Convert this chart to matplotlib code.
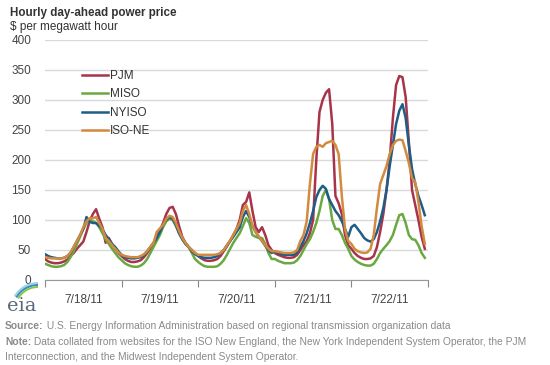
import numpy as np
import matplotlib
matplotlib.use('Agg')
import matplotlib.pyplot as plt
from matplotlib.patches import Arc

plt.rcParams['font.family'] = ['Liberation Sans', 'DejaVu Sans']

days = ['7/18/11', '7/19/11', '7/20/11', '7/21/11', '7/22/11']
yticks = [0, 50, 100, 150, 200, 250, 300, 350, 400]

# hourly prices, $/MWh, 5 days x 24 hours
pjm = [35, 31, 29, 28, 28, 29, 31, 34, 40, 45, 52, 58, 64, 80, 98, 110, 118, 102, 88, 62, 70, 60, 52, 45,
       40, 35, 32, 30, 30, 31, 33, 38, 45, 52, 60, 70, 82, 95, 110, 120, 122, 110, 90, 72, 62, 55, 50, 45,
       40, 36, 33, 32, 32, 33, 35, 40, 48, 56, 65, 75, 85, 100, 125, 130, 146, 115, 88, 80, 88, 75, 58, 50,
       45, 42, 40, 38, 37, 37, 38, 42, 50, 58, 65, 78, 100, 200, 280, 300, 312, 318, 260, 140, 128, 110, 75, 58,
       52, 45, 40, 37, 35, 35, 36, 40, 55, 80, 110, 150, 200, 270, 325, 340, 338, 305, 230, 150, 125, 100, 72, 52]
miso = [27, 25, 23, 22, 22, 23, 25, 30, 38, 48, 60, 72, 85, 95, 100, 98, 95, 88, 78, 68, 60, 52, 45, 38,
        33, 28, 25, 23, 22, 22, 24, 28, 35, 45, 55, 65, 75, 88, 98, 102, 100, 90, 78, 68, 62, 55, 45, 35,
        30, 26, 23, 22, 22, 22, 23, 27, 33, 42, 52, 62, 70, 78, 90, 103, 95, 75, 72, 70, 70, 60, 45, 35,
        35, 32, 30, 28, 28, 28, 29, 33, 40, 50, 60, 68, 80, 95, 115, 140, 150, 135, 100, 85, 85, 75, 62, 52,
        40, 34, 30, 27, 25, 24, 24, 27, 35, 45, 52, 58, 65, 75, 92, 108, 110, 95, 75, 68, 67, 58, 45, 37]
nyiso = [43, 40, 38, 37, 36, 36, 37, 40, 45, 55, 65, 75, 85, 105, 97, 95, 95, 90, 85, 75, 68, 60, 55, 48,
         42, 38, 37, 36, 36, 37, 38, 42, 48, 55, 62, 70, 80, 92, 100, 105, 102, 92, 78, 68, 60, 55, 48, 43,
         40, 38, 37, 37, 37, 38, 40, 45, 50, 58, 65, 72, 80, 88, 105, 115, 105, 90, 80, 72, 65, 57, 50, 45,
         48, 45, 43, 42, 42, 42, 42, 46, 55, 65, 78, 95, 115, 138, 150, 157, 152, 135, 125, 115, 108, 98, 85, 72,
         88, 92, 85, 78, 70, 66, 64, 68, 80, 98, 120, 150, 190, 225, 260, 282, 293, 270, 225, 185, 160, 140, 125, 108]
isone = [38, 37, 36, 36, 36, 36, 37, 40, 46, 55, 65, 75, 88, 98, 103, 103, 105, 95, 85, 70, 65, 58, 52, 46,
         42, 40, 39, 38, 38, 38, 40, 43, 48, 55, 62, 80, 86, 92, 102, 107, 105, 95, 82, 70, 62, 55, 50, 45,
         42, 42, 42, 42, 42, 42, 43, 45, 50, 58, 66, 75, 85, 95, 115, 125, 110, 90, 80, 72, 65, 58, 52, 48,
         48, 47, 46, 45, 45, 45, 46, 50, 65, 75, 98, 160, 210, 222, 225, 222, 228, 230, 232, 225, 210, 140, 85, 65,
         60, 52, 48, 46, 45, 46, 52, 75, 120, 160, 175, 190, 210, 225, 232, 234, 233, 215, 195, 170, 163, 130, 90, 60]

hours = np.arange(len(pjm))

fig = plt.figure(figsize=(5.5, 3.65), dpi=100)
ax = fig.add_axes([45/550, 1-280/365, 383/550, 240/365])

ax.plot(hours, pjm, color='#a8344a', lw=1.8, label='PJM')
ax.plot(hours, miso, color='#6aa842', lw=1.8, label='MISO')
ax.plot(hours, nyiso, color='#1f5d86', lw=1.8, label='NYISO')
ax.plot(hours, isone, color='#d28a3e', lw=1.8, label='ISO-NE')

ax.set_xlim(0, 120)
ax.set_ylim(0, 400)
ax.set_yticks(yticks)
ax.yaxis.grid(True, color='#d9d9d9', lw=1)
ax.set_axisbelow(True)
ax.set_xticks(np.arange(0, 121, 24))
ax.set_xticklabels([])
ax.set_xticks(np.arange(12, 120, 24), minor=True)
ax.set_xticklabels(days, minor=True)
ax.tick_params(axis='x', which='major', length=5, color='#888888', direction='out')
ax.tick_params(axis='x', which='minor', length=0, pad=10, labelsize=8.5, labelcolor='#444444')
ax.tick_params(axis='y', length=0, pad=10, labelsize=8.5, labelcolor='#444444')
for s in ['top', 'right', 'left']:
    ax.spines[s].set_visible(False)
ax.spines['bottom'].set_color('#999999')

ax.legend(loc='upper left', bbox_to_anchor=(82/550, 1-70/365), bbox_transform=fig.transFigure,
          frameon=False, fontsize=8.5, handlelength=2.2, handletextpad=0.2,
          labelspacing=0.55, borderpad=0, borderaxespad=0, labelcolor='#333333')

fig.text(10/550, 1-16/365, 'Hourly day-ahead power price', fontsize=8.4, fontweight='bold',
         color='#333333', va='baseline')
fig.text(10/550, 1-30/365, '$ per megawatt hour', fontsize=8.5, color='#333333', va='baseline')

# eia logo
fig.text(7/550, 1-311/365, 'eia', fontsize=14, family='DejaVu Serif', color='#5a6a78', va='baseline')
lax = fig.add_axes([0, 1-315/365, 40/550, 35/365])
lax.set_xlim(0, 40)
lax.set_ylim(0, 35)
lax.axis('off')
for r, c in [(27, '#9fd0ea'), (25, '#2e8fc8'), (23, '#8cc63f')]:
    lax.add_patch(Arc((38, 5), r * 2, r * 2, theta1=90, theta2=150, color=c, lw=1.4))

gray = '#8a8a8a'
fs = 7.4
t1 = fig.text(5/550, 1-329/365, 'Source:', fontsize=fs, fontweight='bold', color=gray, va='baseline')
ax.annotate(' U.S. Energy Information Administration based on regional transmission organization data',
            xy=(1, 0), xycoords=t1, fontsize=fs, color=gray, va='bottom', ha='left',
            annotation_clip=False)
t2 = fig.text(5/550, 1-345/365, 'Note:', fontsize=fs, fontweight='bold', color=gray, va='baseline')
ax.annotate(' Data collated from websites for the ISO New England, the New York Independent System Operator, the PJM',
            xy=(1, 0), xycoords=t2, fontsize=fs, color=gray, va='bottom', ha='left',
            annotation_clip=False)
fig.text(5/550, 1-360/365, 'Interconnection, and the Midwest Independent System Operator.',
         fontsize=fs, color=gray, va='baseline')

fig.savefig('out.png', dpi=100)
